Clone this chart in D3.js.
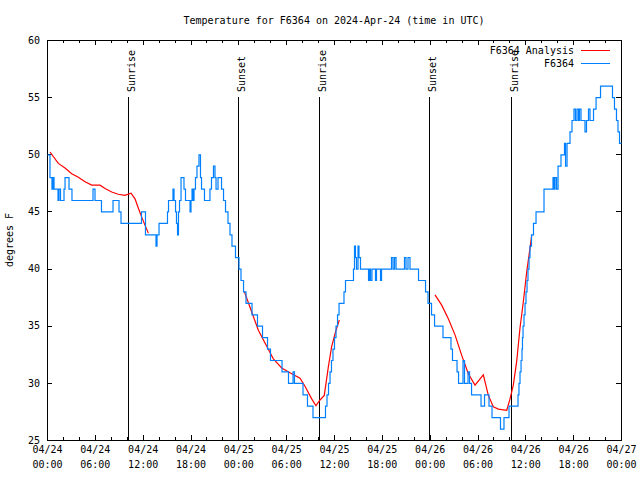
<!DOCTYPE html>
<html><head><meta charset="utf-8">
<script src="https://cdn.jsdelivr.net/npm/d3@7"></script>
<style>
body{margin:0;background:#fff}
svg{display:block}
text{font-family:"DejaVu Sans Mono","Liberation Mono",monospace;font-size:10px;fill:#000}
</style>
</head><body>
<svg id="c" width="640" height="480"></svg>
<script>
// ---------- data (hours since 2024-04-24 00:00 UTC) ----------
const obsHours = [0,0.31,0.56,0.69,0.82,1.32,1.44,1.63,2.07,2.20,2.70,3.07,5.71,5.96,6.77,8.22,8.97,9.22,11.79,12.29,
 13.61,13.74,13.99,15.05,15.18,15.74,15.87,16.06,16.18,16.31,16.43,16.56,16.75,17.12,17.31,17.88,18.00,18.13,18.25,18.38,
 18.56,18.75,19.00,19.19,19.32,19.69,20.38,20.57,20.82,21.01,21.14,21.39,21.83,22.08,22.33,22.64,22.89,23.14,23.58,24.02,
 24.27,24.59,24.90,25.65,26.34,26.97,27.60,27.97,29.42,30.23,30.80,30.98,32.05,32.61,33.30,34.87,35.06,35.25,35.44,35.62,
 35.81,36.00,36.19,36.38,36.57,37.19,37.38,38.38,38.51,38.63,38.76,38.95,39.07,39.26,40.27,40.39,40.52,40.70,41.14,41.27,
 41.77,41.90,43.15,43.34,43.53,43.72,44.78,44.97,45.22,45.47,46.54,47.42,47.73,48.17,48.55,49.61,50.61,50.80,51.37,51.56,
 52.12,52.31,52.75,52.94,53.19,54.38,54.82,55.38,55.76,56.82,57.26,57.89,59.02,59.14,59.27,59.40,59.52,59.58,59.65,59.77,
 59.90,60.02,60.15,60.27,60.40,60.52,60.71,60.96,61.28,62.28,63.41,63.54,63.66,63.85,64.04,64.41,64.85,64.98,65.17,65.54,
 65.79,66.04,66.23,66.42,66.61,66.73,66.92,67.42,67.61,67.86,68.05,68.49,68.81,69.37,70.87,71.12,71.37,71.56,71.75,72.00];
const obsTemps = [50,48,47,48,47,46,47,46,47,48,47,46,47,46,45,46,45,44,45,43,
 42,43,44,45,46,47,46,45,44,43,45,46,48,47,46,45,46,47,46,47,
 48,49,50,48,47,46,47,48,49,48,47,48,47,46,45,44,43,42,41,40,
 39,38,37,36,35,34,33,32,31,30,31,30,29,28,27,28,29,30,31,32,
 33,34,35,36,37,38,39,40,42,41,40,42,41,40,39,40,39,40,39,40,
 39,40,41,40,41,40,41,40,41,40,39,38,37,36,35,34,33,32,31,30,
 32,30,31,30,29,28,29,28,27,26,27,28,29,30,31,32,33,34,35,36,
 37,38,39,40,41,42,43,44,45,47,48,47,48,47,49,50,51,49,51,52,
 53,54,53,54,53,54,53,52,53,54,53,54,55,56,55,54,53,52,51,51];

const anaHours = [0.38,1.42,2.26,3.10,3.93,4.77,5.61,6.65,7.28,8.12,8.94,9.78,10.54,11.04,11.45,11.88,12.29,12.71,
 12.8,
 24.75,25.68,26.51,27.56,28.39,29.44,30.70,31.74,32.36,33.20,33.74,34.25,34.78,35.29,35.71,36.21,36.67,
 36.8,
 48.67,49.51,50.34,51.18,52.02,52.85,53.69,54.73,55.36,55.99,56.61,57.67,58.08,58.49,58.92,59.33,59.75,60.17,60.59,60.80];
const anaTemps = [50.2,49.2,48.8,48.3,48.0,47.6,47.3,47.3,47.0,46.7,46.5,46.4,46.6,46.1,45.3,44.5,43.8,43.1,
 null,
 38.0,36.2,34.6,33.2,32.1,31.3,30.8,30.4,29.7,28.6,28.0,28.5,28.9,31.4,33.2,34.5,35.5,
 null,
 37.7,36.8,35.6,34.2,32.4,30.8,29.8,30.7,28.9,27.9,27.7,27.6,28.6,29.8,31.9,34.8,37.1,39.7,41.8,42.9];

const sunHours = [10.20, 24.00, 34.16, 47.96, 58.20];
const sunLabels = ["Sunrise","Sunset","Sunrise","Sunset","Sunrise"];

const xTickHours = [0,6,12,18,24,30,36,42,48,54,60,66,72];
const xTickDates = ["04/24","04/24","04/24","04/24","04/25","04/25","04/25","04/25","04/26","04/26","04/26","04/26","04/27"];
const xTickTimes = ["00:00","06:00","12:00","18:00","00:00","06:00","12:00","18:00","00:00","06:00","12:00","18:00","00:00"];
const xMinorHours = [2,4,8,10,14,16,20,22,26,28,32,34,38,40,44,46,50,52,56,58,62,64,68,70];
const yTicks = [25,30,35,40,45,50,55,60];

const titleText = "Temperature for F6364 on 2024-Apr-24 (time in UTC)";
const yLabel = "degrees F";
const seriesNames = ["F6364 Analysis","F6364"];
const seriesColors = ["#ff0000","#0080ff"];

// ---------- layout ----------
const L=47, R=621, T=40, B=440;
const svg = d3.select("#c");
const x = d3.scaleLinear().domain([0,72]).range([L,R]);
const y = d3.scaleLinear().domain([25,60]).range([B,T]);

// title
svg.append("text").attr("x",(L+R)/2).attr("y",24).attr("text-anchor","middle").text(titleText);
// y label
svg.append("text").attr("transform",`translate(13,${(T+B)/2}) rotate(-90)`).attr("text-anchor","middle").text(yLabel);

// axes
const noDomain = g => g.select(".domain").remove();
const gB = svg.append("g").attr("transform",`translate(0,${B})`)
  .call(d3.axisBottom(x).tickValues(xTickHours).tickSizeInner(-5).tickSizeOuter(0).tickFormat(()=>""))
  .call(noDomain);
gB.selectAll(".tick text").each(function(d,i){
  const t=d3.select(this); t.text(null).attr("dy",null).attr("y",null);
  t.append("tspan").attr("x",0).attr("y",13).text(xTickDates[i]);
  t.append("tspan").attr("x",0).attr("y",28).text(xTickTimes[i]);
});
svg.append("g").attr("transform",`translate(0,${B})`)
  .call(d3.axisBottom(x).tickValues(xMinorHours).tickSizeInner(-3).tickSizeOuter(0).tickFormat(""))
  .call(noDomain);
svg.append("g").attr("transform",`translate(0,${T})`)
  .call(d3.axisTop(x).tickValues(xTickHours).tickSizeInner(-5).tickSizeOuter(0).tickFormat(""))
  .call(noDomain);
svg.append("g").attr("transform",`translate(0,${T})`)
  .call(d3.axisTop(x).tickValues(xMinorHours).tickSizeInner(-3).tickSizeOuter(0).tickFormat(""))
  .call(noDomain);
svg.append("g").attr("transform",`translate(${L},0)`)
  .call(d3.axisLeft(y).tickValues(yTicks).tickSizeInner(-5).tickSizeOuter(0).tickPadding(7).tickFormat(d3.format("d")))
  .call(noDomain);
svg.append("g").attr("transform",`translate(${R},0)`)
  .call(d3.axisRight(y).tickValues(yTicks).tickSizeInner(-5).tickSizeOuter(0).tickFormat(""))
  .call(noDomain);
svg.selectAll(".tick line").attr("stroke","#000").attr("shape-rendering","crispEdges");
svg.selectAll(".tick text").attr("fill","#000").style("font-family",'"DejaVu Sans Mono",monospace').style("font-size","10px");

// border
svg.append("rect").attr("x",L+0.5).attr("y",T+0.5).attr("width",R-L).attr("height",B-T)
  .attr("fill","none").attr("stroke","#000").attr("shape-rendering","crispEdges");

// sunrise / sunset lines
sunHours.forEach((h,i)=>{
  const px = Math.round(x(h))+0.5;
  svg.append("line").attr("x1",px).attr("x2",px).attr("y1",97).attr("y2",B)
    .attr("stroke","#000").attr("shape-rendering","crispEdges");
  svg.append("text").attr("transform",`translate(${px+6},92) rotate(-90)`).text(sunLabels[i]);
});

// analysis (red)
const ana = anaHours.map((h,i)=>({h, v: anaTemps[i]}));
svg.append("path").datum(ana)
  .attr("d", d3.line().defined(d=>d.v!=null).x(d=>x(d.h)).y(d=>y(d.v)))
  .attr("fill","none").attr("stroke",seriesColors[0]).attr("stroke-width",1.2);

// observations (blue)
const obs = obsHours.map((h,i)=>({h, v: obsTemps[i]}));
svg.append("path").datum(obs)
  .attr("d", d3.line().x(d=>x(d.h)).y(d=>y(d.v)).curve(d3.curveStepAfter))
  .attr("fill","none").attr("stroke",seriesColors[1]).attr("stroke-width",1.2)
  .attr("transform","translate(0.5,0.5)");

// legend
seriesNames.forEach((n,i)=>{
  const ly = 50 + i*13;
  svg.append("text").attr("x",574).attr("y",ly).attr("dy","0.35em").attr("text-anchor","end").text(n);
  svg.append("line").attr("x1",581).attr("x2",610).attr("y1",ly+0.5).attr("y2",ly+0.5)
    .attr("stroke",seriesColors[i]).attr("shape-rendering","crispEdges");
});
</script>
</body></html>
